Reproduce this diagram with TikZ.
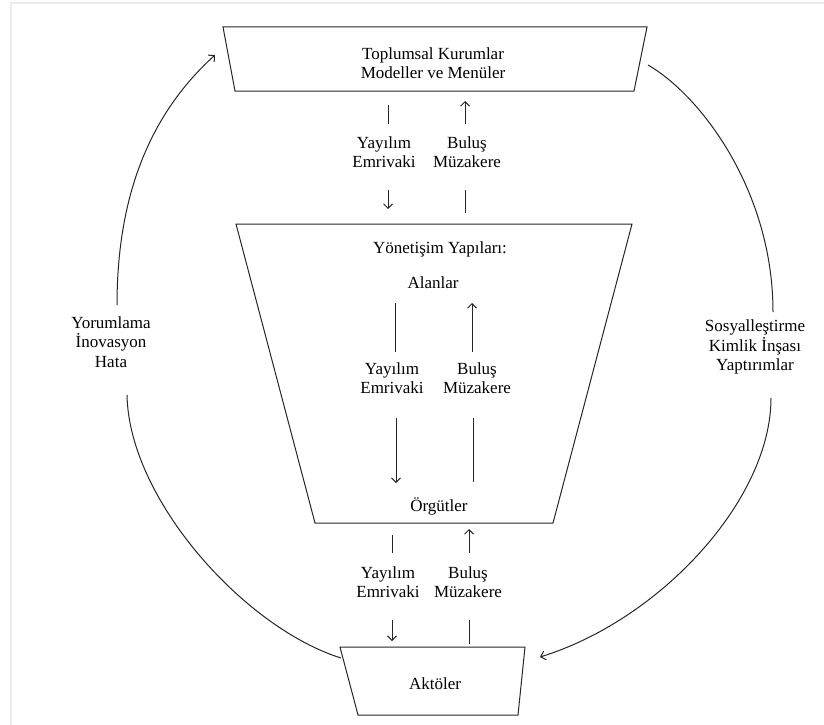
\documentclass[tikz,border=0pt]{standalone}
\usepackage{fontspec}
\setmainfont{Liberation Serif}
\usetikzlibrary{arrows.meta}
\begin{document}
\begin{tikzpicture}[x=1pt,y=-1pt,
  txt/.style={font=\fontsize{17}{19.5}\selectfont, align=center, inner sep=0pt, text=black},
  box/.style={draw=black!85, line width=1pt, line join=miter},
  link/.style={draw=black!85, line width=1pt},
  arr/.style={link, -{Straight Barb[length=4.5pt,width=9pt,line width=1pt]}},
]
\useasboundingbox (0,0) rectangle (824,725);
% faint page frame
\draw[gray!15, line width=1.2pt] (11,725) -- (11,3) -- (824,3);

% ---- level shapes ----
\draw[box] (223,27) -- (647,27) -- (634,91) -- (235,91) -- cycle;
\draw[box] (236,224) -- (632,224) -- (553,523) -- (315,523) -- cycle;
\draw[box] (340,647) -- (525,647) -- (518,715) -- (358,715) -- cycle;

% ---- level texts ----
\node[txt] (inst) at (433,63) {Toplumsal Kurumlar\\Modeller ve Menüler};
\node[txt] (gov)  at (440,249) {Yönetişim Yapıları:};
\node[txt] (field) at (433,283) {Alanlar};
\node[txt] (org)  at (439,506) {Örgütler};
\node[txt] (act)  at (435,684) {Aktöler};

% ---- vertical flow labels ----
\node[txt] (d1) at (384,152) {Yayılım\\Emrivaki};
\node[txt] (u1) at (467,152) {Buluş\\Müzakere};
\node[txt] (d2) at (392,378) {Yayılım\\Emrivaki};
\node[txt] (u2) at (477,378) {Buluş\\Müzakere};
\node[txt] (d3) at (388,582) {Yayılım\\Emrivaki};
\node[txt] (u3) at (468,582) {Buluş\\Müzakere};

% ---- side labels ----
\node[txt] (left)  at (111,342) {Yorumlama\\İnovasyon\\Hata};
\node[txt] (right) at (755,347) {Sosyalleştirme\\Kimlik İnşası\\Yaptırımlar};

% ---- connector end points ----
\coordinate (d1a) at (388,105); \coordinate (d1b) at (388,124);
\coordinate (d1c) at (388,190); \coordinate (d1d) at (388,209);
\coordinate (u1a) at (465,124); \coordinate (u1b) at (465,101);
\coordinate (u1c) at (465,190); \coordinate (u1d) at (465,213);

\coordinate (d2a) at (395,303); \coordinate (d2b) at (395,352);
\coordinate (d2c) at (396,418); \coordinate (d2d) at (396,483);
\coordinate (u2a) at (472,352); \coordinate (u2b) at (472,303);
\coordinate (u2c) at (473,418); \coordinate (u2d) at (473,482);

\coordinate (d3a) at (392,535); \coordinate (d3b) at (392,553);
\coordinate (d3c) at (392,620); \coordinate (d3d) at (392,641);
\coordinate (u3a) at (469,553); \coordinate (u3b) at (469,529);
\coordinate (u3c) at (469,620); \coordinate (u3d) at (469,644);

\coordinate (lu0) at (117,305); \coordinate (lu1) at (215,55);
\coordinate (ll0) at (127,395); \coordinate (ll1) at (341,658);
\coordinate (ru0) at (648,65);  \coordinate (ru1) at (773,312);
\coordinate (rl0) at (771,398); \coordinate (rl1) at (540,657);

% ---- vertical connectors ----
\draw[link] (d1a) -- (d1b);  \draw[arr] (d1c) -- (d1d);
\draw[arr]  (u1a) -- (u1b);  \draw[link] (u1c) -- (u1d);
\draw[link] (d2a) -- (d2b);  \draw[arr] (d2c) -- (d2d);
\draw[arr]  (u2a) -- (u2b);  \draw[link] (u2c) -- (u2d);
\draw[link] (d3a) -- (d3b);  \draw[arr] (d3c) -- (d3d);
\draw[arr]  (u3a) -- (u3b);  \draw[link] (u3c) -- (u3d);

% ---- feedback loop ----
\draw[arr]  (lu0) .. controls (117,180) and (160,105) .. (lu1);
\draw[link] (ll0) .. controls (129,500) and (245,628) .. (ll1);
\draw[link] (ru0) .. controls (700,95) and (773,190) .. (ru1);
\draw[arr]  (rl0) .. controls (771,500) and (660,620) .. (rl1);
\end{tikzpicture}
\end{document}
